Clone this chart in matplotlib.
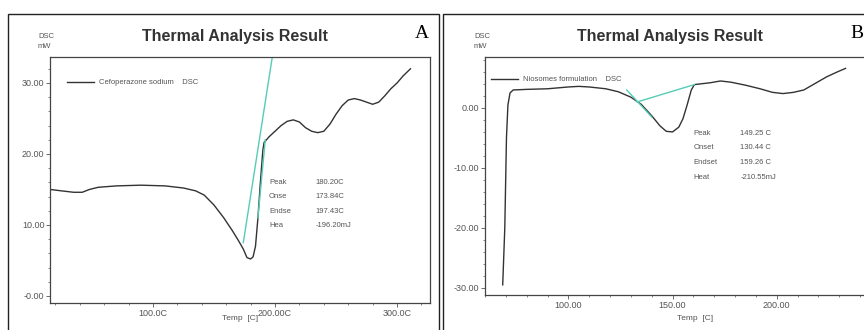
import matplotlib.pyplot as plt
from matplotlib.patches import Rectangle

# panel A: cefoperazone sodium
temp_a = [15.6, 25, 35, 42, 48, 55, 70, 90, 110, 125, 135, 142, 150, 158, 165, 170, 174, 177,
          180, 182, 184, 186, 188, 190, 191, 195, 200, 205, 210, 215, 220, 225, 230, 235, 240,
          245, 250, 255, 260, 265, 270, 275, 280, 285, 290, 295, 300, 305, 311]
dsc_a = [15.0, 14.8, 14.6, 14.6, 15.0, 15.3, 15.5, 15.6, 15.5, 15.2, 14.8, 14.2, 12.8, 11.0, 9.2,
         7.8, 6.6, 5.4, 5.2, 5.5, 7.0, 11.0, 16.0, 20.5, 21.6, 22.4, 23.2, 24.0, 24.6, 24.8, 24.5,
         23.7, 23.2, 23.0, 23.2, 24.2, 25.6, 26.8, 27.6, 27.8, 27.6, 27.3, 27.0, 27.3, 28.2, 29.2,
         30.0, 31.0, 32.0]
tan_a_x = [[174, 197.8], [186, 192]]
tan_a_y = [[7.5, 33.7], [11.0, 22.0]]
info_a = [("Peak", "180.20C"), ("Onse", "173.84C"), ("Endse", "197.43C"), ("Hea", "-196.20mJ")]
xticks_a = [100, 200, 300]
xlabels_a = ["100.0C", "200.00C", "300.0C"]
yticks_a = [0, 10, 20, 30]
ylabels_a = ["-0.00", "10.00", "20.00", "30.00"]

# panel B: niosomes formulation
temp_b = [68.5, 69.5, 70.3, 71.0, 72.0, 73.5, 80, 90, 100, 105, 110, 118, 124, 130, 135, 140, 144,
          147, 150, 153, 155, 157, 159, 160.5, 163, 168, 173, 178, 185, 192, 198, 203, 208, 213,
          218, 224, 229, 233]
dsc_b = [-29.5, -20, -5, 0.5, 2.5, 3.0, 3.1, 3.2, 3.5, 3.6, 3.5, 3.2, 2.7, 1.8, 0.6, -1.3, -3.0,
         -3.9, -4.0, -3.2, -1.8, 0.5, 3.0, 3.9, 4.0, 4.2, 4.5, 4.3, 3.8, 3.2, 2.6, 2.4, 2.6, 3.0,
         4.0, 5.2, 6.0, 6.6]
tan_b_x = [[133, 160.5], [128, 140]]
tan_b_y = [[1.0, 3.9], [3.0, -1.5]]
info_b = [("Peak", "149.25 C"), ("Onset", "130.44 C"), ("Endset", "159.26 C"), ("Heat", "-210.55mJ")]
xticks_b = [100, 150, 200]
xlabels_b = ["100.00", "150.00", "200.00"]
yticks_b = [-30, -20, -10, 0]
ylabels_b = ["-30.00", "-20.00", "-10.00", "0.00"]

W, H = 864, 330
plt.rcParams['font.family'] = ['Liberation Sans', 'DejaVu Sans']
fig = plt.figure(figsize=(W / 100, H / 100), dpi=100)


def px(x0, y0, x1, y1):
    return [x0 / W, 1 - y1 / H, (x1 - x0) / W, (y1 - y0) / H]


# panel frames
for x0, x1 in [(8, 439), (443, 866)]:
    fig.patches.append(Rectangle((x0 / W, -0.01), (x1 - x0) / W, 1 - 14 / H + 0.01,
                                 transform=fig.transFigure, fill=False, lw=1.0, ec="#222222"))

line_c = "#333333"
teal = "#55ccb8"
grey = "#555555"


def panel(rect, x, y, tx, ty, info, info_pos, xlim, ylim, xt, xl, yt, yl, legend, leg_pos,
          title_x, letter, letter_x, xlab_x, dsc_x):
    ax = fig.add_axes(rect)
    ax.plot(x, y, color=line_c, lw=1.0)
    for a, b in zip(tx, ty):
        ax.plot(a, b, color=teal, lw=1.0)
    ax.set_xlim(*xlim)
    ax.set_ylim(*ylim)
    ax.set_xticks(xt)
    ax.set_xticklabels(xl)
    ax.set_yticks(yt)
    ax.set_yticklabels(yl)
    ax.minorticks_on()
    ax.tick_params(labelsize=6.5, colors=grey, length=3, width=0.6, direction="out", pad=1)
    ax.tick_params(which="minor", length=1.5, width=0.5, colors=grey)
    for s in ax.spines.values():
        s.set_color("#444444")
        s.set_linewidth(0.9)
    # legend entry
    lx, ly = leg_pos
    ax.plot([lx, lx + 0.07], [ly, ly], transform=ax.transAxes, color=line_c, lw=1.0)
    ax.text(lx + 0.085, ly, legend, transform=ax.transAxes, fontsize=5.5, color=grey, va="center")
    # peak info block
    ix, iy, dx, dy = info_pos
    for i, (k, v) in enumerate(info):
        ax.text(ix, iy - i * dy, k, fontsize=5.5, color=grey, va="center")
        ax.text(ix + dx, iy - i * dy, v, fontsize=5.5, color=grey, va="center")
    fig.text(title_x / W, 1 - 36 / H, "Thermal Analysis Result", fontsize=11.5, color="#333333",
             fontweight="bold", ha="center", va="center")
    fig.text(letter_x / W, 1 - 33 / H, letter, fontsize=14, family="Liberation Serif",
             ha="center", va="center")
    fig.text(xlab_x / W, 1 - 318 / H, "Temp  [C]", fontsize=6, color=grey, ha="center", va="center")
    fig.text(dsc_x / W, 1 - 37 / H, "DSC", fontsize=5.5, color=grey, va="center")
    fig.text(dsc_x / W, 1 - 47 / H, "mW", fontsize=5.5, color=grey, va="center")
    return ax


ax_a = panel(px(50, 57, 430, 303), temp_a, dsc_a, tan_a_x, tan_a_y, info_a, (195, 16.0, 38, 2.05),
             (15.6, 327), (-1.0, 33.66), xticks_a, xlabels_a, yticks_a, ylabels_a,
             "Cefoperazone sodium    DSC", (0.045, 0.898), 235, "A", 422, 240, 38)

ax_b = panel(px(485, 57, 868, 295), temp_b, dsc_b, tan_b_x, tan_b_y, info_b, (160, -4.2, 22.5, 2.45),
             (60, 243.8), (-31.2, 8.5), xticks_b, xlabels_b, yticks_b, ylabels_b,
             "Niosomes formulation    DSC", (0.015, 0.907), 670, "B", 857, 695, 474)

fig.savefig("out.png", dpi=100)
